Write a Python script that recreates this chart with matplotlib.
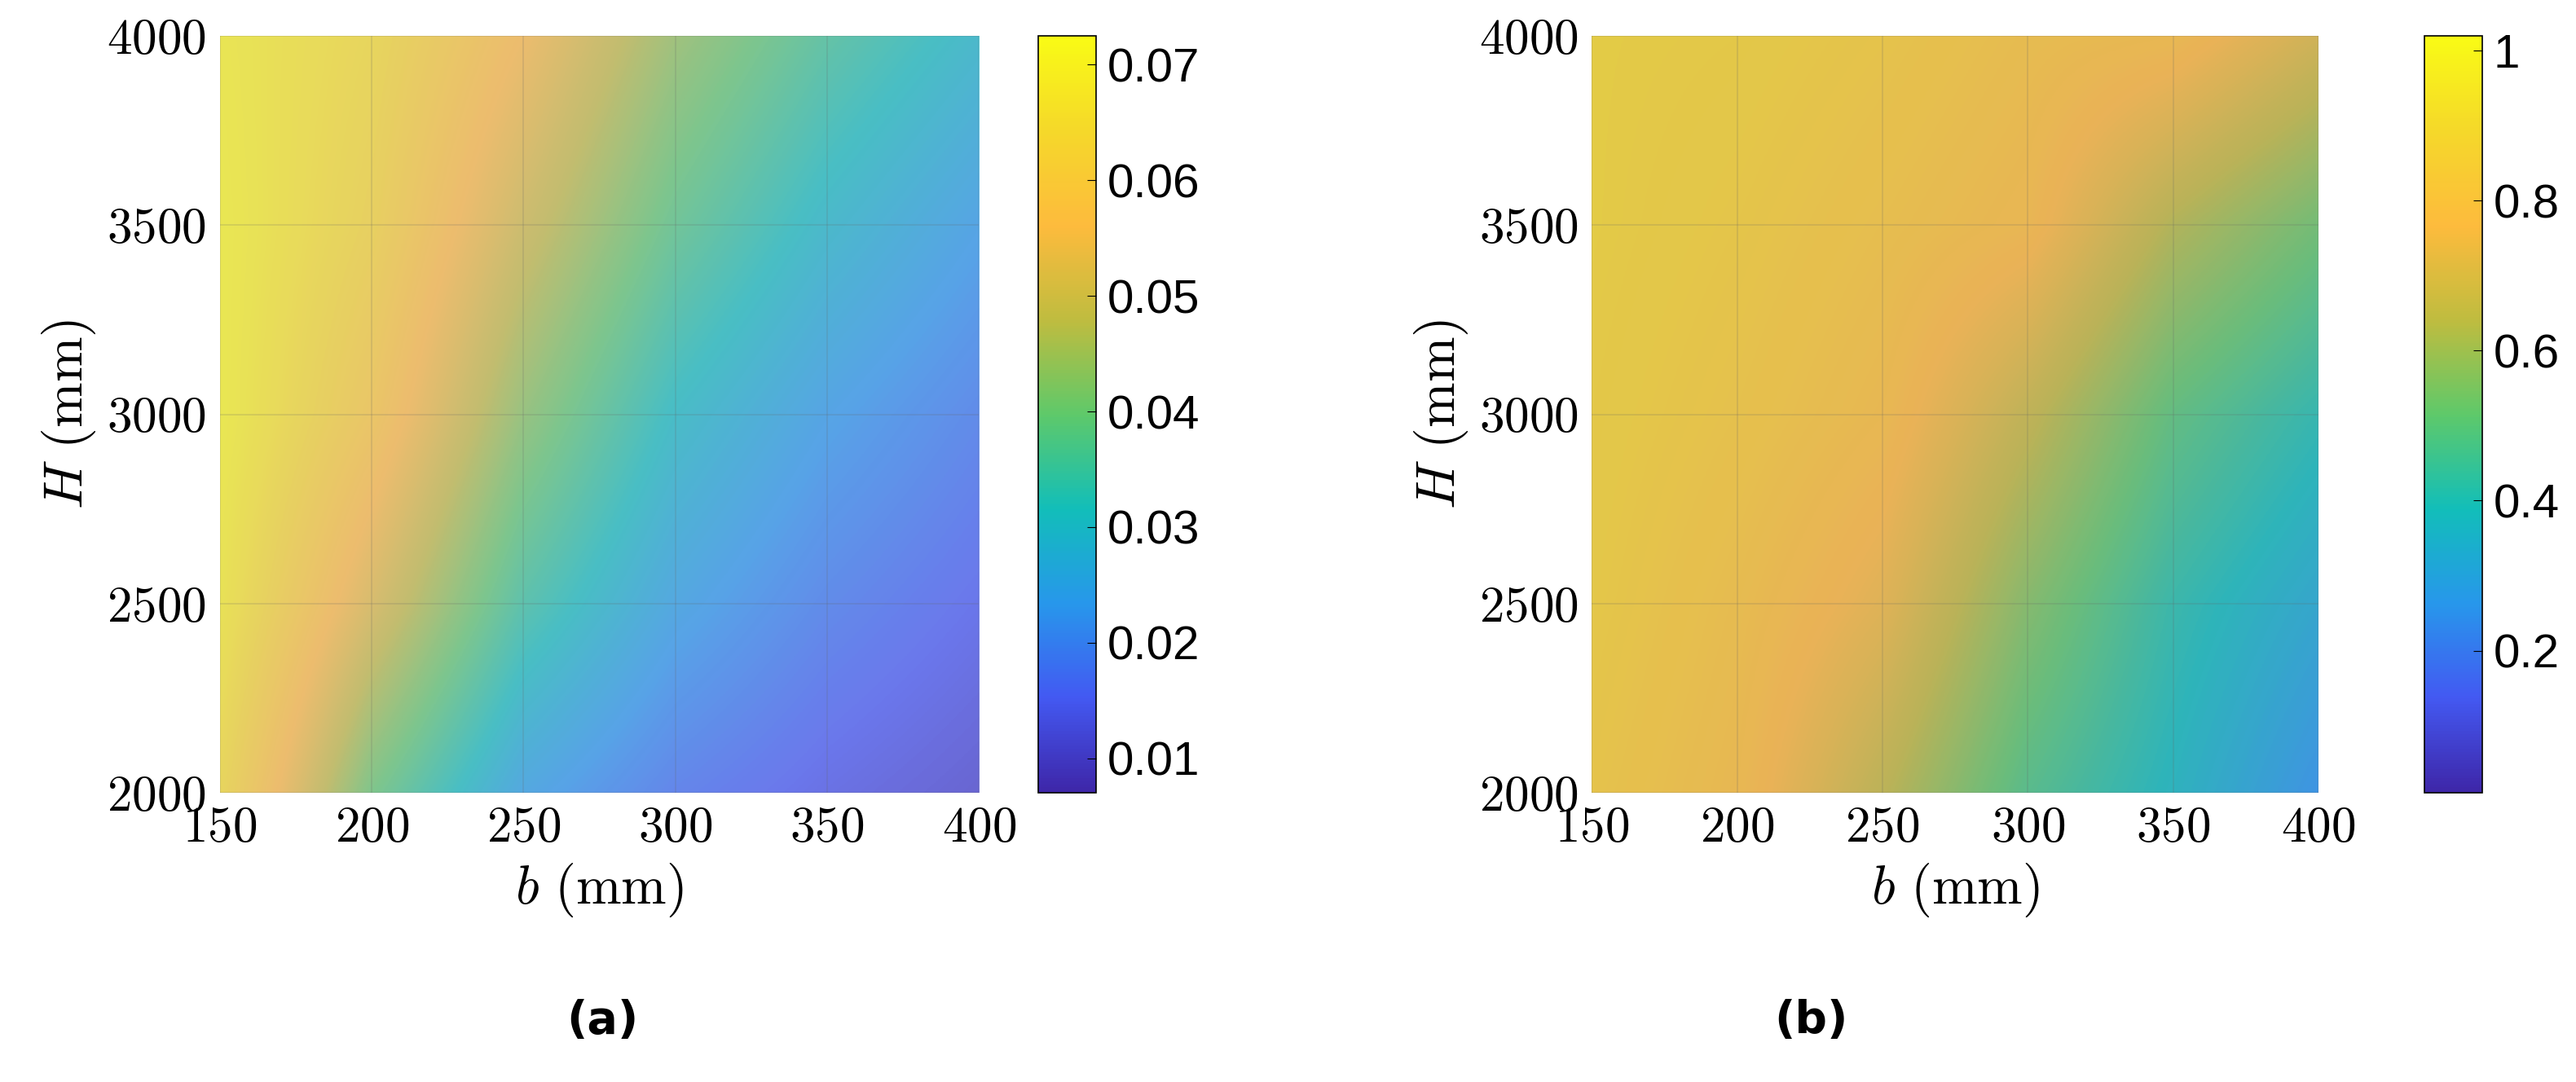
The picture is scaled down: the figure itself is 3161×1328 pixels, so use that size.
import numpy as np
import matplotlib.pyplot as plt
from matplotlib.colors import LinearSegmentedColormap
from matplotlib.ticker import FuncFormatter

plt.rcParams['font.family'] = ['cmr10', 'DejaVu Serif']
plt.rcParams['mathtext.fontset'] = 'cm'
plt.rcParams['axes.formatter.use_mathtext'] = True

# grid samples
b_mm = [150, 200, 250, 300, 350, 400]
H_mm = [2000, 2500, 3000, 3500, 4000]

vals_a = [
    [0.066, 0.040, 0.025, 0.018, 0.014, 0.011],
    [0.070, 0.052, 0.035, 0.025, 0.019, 0.015],
    [0.072, 0.060, 0.043, 0.031, 0.024, 0.019],
    [0.072, 0.064, 0.050, 0.038, 0.030, 0.024],
    [0.071, 0.066, 0.056, 0.044, 0.036, 0.030],
]
vals_b = [
    [0.86, 0.80, 0.65, 0.48, 0.38, 0.26],
    [0.88, 0.82, 0.74, 0.56, 0.42, 0.33],
    [0.89, 0.85, 0.80, 0.66, 0.50, 0.41],
    [0.90, 0.87, 0.83, 0.79, 0.63, 0.53],
    [0.90, 0.89, 0.86, 0.82, 0.80, 0.70],
]
lim_a = (0.007, 0.0725)
lim_b = (0.01, 1.02)

# rough parula
parula = LinearSegmentedColormap.from_list('parula', [
    '#3e26a8', '#4359f2', '#2797eb', '#12beb9', '#5ec96a',
    '#bfbc3f', '#fdbb3d', '#f5d82a', '#f9fb15'])

fig = plt.figure(figsize=(31.61, 13.28), dpi=100)

def panel(rect, crect, vals, lim, ticks, tag, tx, bg, alpha):
    ax = fig.add_axes(rect)
    ax.set_facecolor(bg)
    m = ax.imshow(np.array(vals), origin='lower', aspect='auto',
                  extent=(125, 425, 1750, 4250), interpolation='bilinear',
                  cmap=parula, vmin=lim[0], vmax=lim[1], alpha=alpha)
    ax.set_xlim(150, 400)
    ax.set_ylim(2000, 4000)
    ax.set_xticks([150, 200, 250, 300, 350, 400])
    ax.set_yticks([2000, 2500, 3000, 3500, 4000])
    ax.grid(True, color='#666666', alpha=0.2, lw=1.2)
    ax.tick_params(labelsize=44, length=0, pad=12)
    ax.set_xlabel(r'$b\ (\mathrm{mm})$', fontsize=48, labelpad=8)
    ax.set_ylabel(r'$H\ (\mathrm{mm})$', fontsize=48, labelpad=8)
    for s in ax.spines.values():
        s.set_visible(False)
    cax = fig.add_axes(crect)
    cb = fig.colorbar(m, cax=cax, ticks=ticks,
                      format=FuncFormatter(lambda v, p: f'{v:g}'))
    cb.solids.set_alpha(1)
    cb.ax.tick_params(labelsize=42, length=8, direction='in', pad=10)
    for t in cb.ax.get_yticklabels():
        t.set_family('Liberation Sans')
    cb.outline.set_linewidth(1.2)
    fig.text(tx, 0.045, tag, fontsize=40, ha='center', weight='bold',
             family='DejaVu Sans')

panel([0.0854, 0.267, 0.2946, 0.70], [0.403, 0.267, 0.0225, 0.70],
      vals_a, lim_a, [0.01, 0.02, 0.03, 0.04, 0.05, 0.06, 0.07],
      '(a)', 0.234, '#c8c0e0', 0.7)
panel([0.618, 0.267, 0.282, 0.70], [0.941, 0.267, 0.0225, 0.70],
      vals_b, lim_b, [0.2, 0.4, 0.6, 0.8, 1.0],
      '(b)', 0.703, '#a090c0', 0.8)

fig.savefig('out.png', dpi=100)
